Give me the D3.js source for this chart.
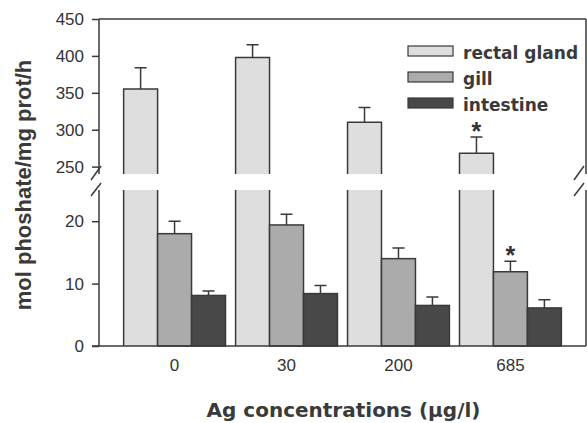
<!DOCTYPE html>
<html>
<head>
<meta charset="utf-8">
<script src="https://cdn.jsdelivr.net/npm/d3@7"></script>
<style>
  body { margin: 0; background: #fff; }
  svg { display: block; }
</style>
</head>
<body>
<script>
var categories = ["0", "30", "200", "685"];
var seriesNames = ["rectal gland", "gill", "intestine"];

var rectalGland = [355, 398, 310, 268];
var rectalGlandErr = [29, 17, 20, 22];
var gill = [18.0, 19.4, 14.0, 11.9];
var gillErr = [2.0, 1.7, 1.7, 1.7];
var intestine = [8.1, 8.4, 6.5, 6.1];
var intestineErr = [0.7, 1.3, 1.35, 1.3];

// asterisks: [series index, category index]
var significant = [[0, 3], [1, 3]];

var upperTicks = [250, 300, 350, 400, 450];
var lowerTicks = [0, 10, 20];

var colors = ["#dedede", "#ababab", "#484848"];
var ink = "#3a3a3a";

var totalWidth = 587;
var totalHeight = 423;

var left = 99, right = 586;
var upperTop = 19, upperBottom = 174;
var lowerTop = 190, lowerBottom = 346;

var svg = d3.select("body").append("svg")
  .attr("width", totalWidth)
  .attr("height", totalHeight);

var x0 = d3.scaleBand()
  .domain(categories)
  .range([left, right])
  .paddingInner(0.09)
  .paddingOuter(0.22);

var x1 = d3.scaleBand()
  .domain(seriesNames)
  .range([0, x0.bandwidth()]);

var yUpper = d3.scaleLinear().domain([240, 450]).range([upperBottom, upperTop]);
var yLower = d3.scaleLinear().domain([0, 25]).range([lowerBottom, lowerTop]);

var values = [rectalGland, gill, intestine];
var errors = [rectalGlandErr, gillErr, intestineErr];

var bars = [];
seriesNames.forEach(function(s, si) {
  categories.forEach(function(c, ci) {
    bars.push({ s: s, si: si, c: c, ci: ci, v: values[si][ci], e: errors[si][ci] });
  });
});

// rectal gland: broken bars
var broken = bars.filter(function(d) { return d.si === 0; });
var rest = bars.filter(function(d) { return d.si !== 0; });

function bx(d) { return x0(d.c) + x1(d.s); }
var bw = x1.bandwidth();

svg.selectAll(".rg-up").data(broken).enter().append("rect")
  .attr("x", bx)
  .attr("y", function(d) { return yUpper(d.v); })
  .attr("width", bw)
  .attr("height", function(d) { return upperBottom - yUpper(d.v); })
  .attr("fill", colors[0]);

svg.selectAll(".rg-up-o").data(broken).enter().append("path")
  .attr("d", function(d) {
    var x = bx(d), y = yUpper(d.v);
    return "M" + x + "," + upperBottom + "V" + y + "H" + (x + bw) + "V" + upperBottom;
  })
  .attr("fill", "none")
  .attr("stroke", ink)
  .attr("stroke-width", 1.5);

svg.selectAll(".rg-low").data(broken).enter().append("rect")
  .attr("x", bx)
  .attr("y", lowerTop)
  .attr("width", bw)
  .attr("height", lowerBottom - lowerTop)
  .attr("fill", colors[0]);

svg.selectAll(".rg-low-o").data(broken).enter().append("path")
  .attr("d", function(d) {
    var x = bx(d);
    return "M" + x + "," + lowerTop + "V" + lowerBottom + "M" + (x + bw) + "," + lowerTop + "V" + lowerBottom;
  })
  .attr("fill", "none")
  .attr("stroke", ink)
  .attr("stroke-width", 1.5);

svg.selectAll(".bar").data(rest).enter().append("rect")
  .attr("x", bx)
  .attr("y", function(d) { return yLower(d.v); })
  .attr("width", bw)
  .attr("height", function(d) { return lowerBottom - yLower(d.v); })
  .attr("fill", function(d) { return colors[d.si]; })
  .attr("stroke", ink)
  .attr("stroke-width", 1.5);

// error bars (upper half only)
function yOf(d) { return d.si === 0 ? yUpper : yLower; }
var capW = 12;
svg.selectAll(".err").data(bars).enter().append("path")
  .attr("d", function(d) {
    var cx = bx(d) + bw / 2, y = yOf(d);
    var top = y(d.v + d.e);
    return "M" + cx + "," + y(d.v) + "V" + top + "M" + (cx - capW / 2) + "," + top + "H" + (cx + capW / 2);
  })
  .attr("fill", "none")
  .attr("stroke", ink)
  .attr("stroke-width", 1.5);

svg.selectAll(".star").data(significant).enter().append("text")
  .attr("x", function(p) { return x0(categories[p[1]]) + x1(seriesNames[p[0]]) + bw / 2; })
  .attr("y", function(p) {
    var y = p[0] === 0 ? yUpper : yLower;
    return y(values[p[0]][p[1]] + errors[p[0]][p[1]]) + 3;
  })
  .attr("text-anchor", "middle")
  .style("font-family", "Liberation Sans, Arial, sans-serif")
  .style("font-weight", "bold")
  .style("font-size", "25px")
  .style("fill", "#333")
  .text("*");

// axes
function styleAxis(g) {
  g.select(".domain").remove();
  g.selectAll(".tick line").attr("stroke", ink).attr("stroke-width", 1.5);
  g.selectAll(".tick text")
    .style("font-family", "Liberation Sans, Arial, sans-serif")
    .style("font-size", "17px")
    .attr("fill", "#333");
}

svg.append("g")
  .attr("transform", "translate(" + left + ",0)")
  .call(d3.axisLeft(yUpper).tickValues(upperTicks).tickSize(7).tickPadding(8))
  .call(styleAxis);

svg.append("g")
  .attr("transform", "translate(" + left + ",0)")
  .call(d3.axisLeft(yLower).tickValues(lowerTicks).tickSize(7).tickPadding(8))
  .call(styleAxis);

svg.append("g")
  .attr("transform", "translate(0," + lowerBottom + ")")
  .call(d3.axisBottom(x0).tickSize(0).tickPadding(13))
  .call(styleAxis);

// frame lines
var frame = svg.append("g")
  .attr("fill", "none")
  .attr("stroke", ink)
  .attr("stroke-width", 1.5);

frame.append("path").attr("d", "M" + left + "," + upperTop + "V" + upperBottom);
frame.append("path").attr("d", "M" + left + "," + lowerTop + "V" + lowerBottom);
frame.append("path").attr("d", "M" + left + "," + upperTop + "H" + right);
frame.append("path").attr("d", "M" + (left - 7) + "," + lowerBottom + "H" + right);
frame.append("path").attr("d", "M" + right + "," + upperTop + "V" + upperBottom);
frame.append("path").attr("d", "M" + right + "," + lowerTop + "V" + lowerBottom);

// axis break marks
[left, right - 4].forEach(function(bxp) {
  frame.append("path").attr("d", "M" + (bxp - 8) + "," + 180 + "L" + (bxp + 2) + "," + 166);
  frame.append("path").attr("d", "M" + (bxp - 8) + "," + 196 + "L" + (bxp + 2) + "," + 183);
});

// legend
var legend = svg.append("g");
seriesNames.forEach(function(s, i) {
  legend.append("rect")
    .attr("x", 408)
    .attr("y", 46 + i * 26)
    .attr("width", 45)
    .attr("height", 10)
    .attr("fill", colors[i])
    .attr("stroke", ink)
    .attr("stroke-width", 1.2);
  legend.append("text")
    .attr("x", 463)
    .attr("y", 59 + i * 26)
    .style("font-family", "DejaVu Sans, sans-serif")
    .style("font-weight", "bold")
    .style("font-size", "17px")
    .attr("fill", "#3a3a3a")
    .text(s);
});

svg.append("text")
  .attr("x", (left + right) / 2 + 1)
  .attr("y", 417)
  .attr("text-anchor", "middle")
  .style("font-family", "DejaVu Sans, sans-serif")
  .style("font-weight", "bold")
  .style("font-size", "20px")
  .attr("fill", "#3a3a3a")
  .text("Ag concentrations (\u00b5g/l)");

svg.append("text")
  .attr("transform", "translate(31,185) rotate(-90)")
  .attr("text-anchor", "middle")
  .style("font-family", "Liberation Sans, Arial, sans-serif")
  .style("font-weight", "bold")
  .style("font-size", "22px")
  .attr("fill", "#3a3a3a")
  .text("mol phoshate/mg prot/h");
</script>
</body>
</html>
